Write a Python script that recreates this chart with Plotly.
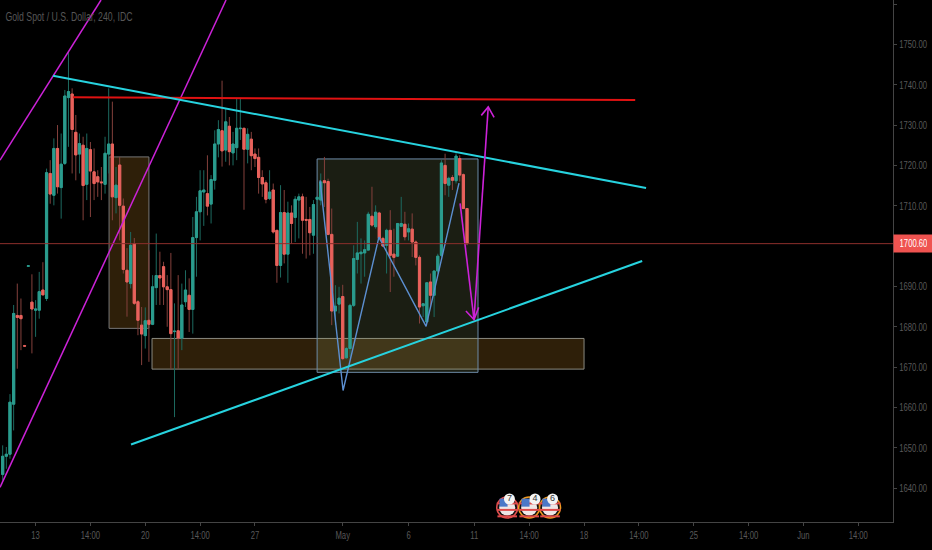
import plotly.graph_objects as go

open_ = [1643.4,1647.9,1648.4,1660.8,1682.8,1682.8,1675.3,1695.0,1686.1,1684.1,1684.1,1689.1,1687.0,1718.0,1712.6,1724.2,1714.5,1720.5,1736.8,1737.7,
1728.2,1722.8,1725.0,1715.3,1723.9,1718.4,1717.2,1715.9,1715.3,1722.8,1725.3,1712.0,1720.1,1709.9,1694.0,1690.7,1700.6,1686.2,1680.4,1677.8,
1681.6,1680.6,1689.7,1692.7,1694.9,1689.9,1689.2,1678.8,1679.0,1677.2,1686.2,1687.8,1684.3,1702.1,1708.5,1713.4,1713.0,1710.4,1716.3,1725.3,
1728.6,1723.8,1729.7,1723.1,1724.4,1729.1,1729.2,1724.0,1726.5,1722.8,1722.0,1717.0,1715.7,1711.8,1713.9,1703.9,1695.2,1708.3,1698.0,1708.2,
1707.1,1711.4,1712.2,1706.6,1706.6,1702.7,1711.6,1711.4,1716.2,1716.0,1702.9,1683.9,1685.6,1687.5,1672.3,1674.6,1685.3,1696.7,1698.1,1698.3,
1699.0,1707.4,1704.8,1708.2,1701.9,1700.2,1703.9,1698.0,1697.5,1704.9,1705.4,1703.5,1704.2,1701.0,1697.2,1685.2,1681.2,1691.1,1687.8,1693.8,
1697.7,1720.0,1715.1,1717.0,1716.2,1721.7,1717.7,1709.3]
high = [1650.6,1650.2,1663.3,1685.4,1690.7,1687.0,1675.5,1695.2,1693.0,1686.6,1693.6,1696.0,1719.2,1721.3,1726.7,1730.0,1727.9,1738.7,1748.2,1739.1,
1732.5,1727.9,1727.1,1727.9,1725.8,1724.2,1718.8,1719.6,1727.1,1739.1,1735.8,1719.6,1722.1,1711.8,1699.5,1703.5,1702.0,1686.6,1684.9,1684.8,
1699.0,1692.8,1703.1,1698.6,1696.1,1692.8,1698.3,1685.8,1692.8,1690.7,1694.0,1692.0,1707.2,1712.2,1718.8,1718.8,1722.5,1717.6,1728.7,1731.2,
1741.0,1734.1,1732.0,1728.3,1736.6,1736.6,1729.2,1729.2,1728.3,1724.2,1724.2,1718.8,1716.3,1718.8,1715.5,1703.9,1715.1,1713.9,1711.0,1710.1,
1712.4,1713.0,1713.0,1712.2,1709.7,1711.4,1712.2,1718.0,1722.1,1716.7,1709.3,1690.3,1689.9,1690.4,1675.0,1685.7,1700.2,1706.0,1701.9,1701.4,
1708.5,1714.7,1710.1,1708.5,1702.3,1704.3,1708.9,1704.3,1705.6,1712.2,1708.5,1705.6,1708.1,1701.4,1697.7,1685.7,1690.9,1693.2,1694.0,1698.1,
1721.3,1722.9,1717.2,1717.6,1723.0,1722.5,1718.0,1709.3]
low = [1641.9,1644.8,1647.3,1654.3,1669.6,1674.2,1675.0,1694.9,1673.4,1677.5,1682.0,1687.9,1686.4,1710.5,1710.1,1713.0,1706.8,1720.1,1724.6,1718.0,
1716.3,1718.0,1706.4,1711.4,1707.2,1711.4,1712.2,1711.4,1713.0,1718.0,1706.4,1708.1,1701.4,1693.2,1682.5,1689.5,1685.4,1677.9,1670.5,1674.6,
1671.3,1680.4,1685.4,1685.4,1685.4,1680.0,1669.6,1657.6,1669.6,1674.2,1684.9,1678.7,1678.3,1692.4,1701.4,1705.0,1707.6,1705.6,1714.0,1722.0,
1719.7,1720.9,1720.0,1720.0,1721.3,1726.3,1709.0,1720.5,1718.8,1719.6,1713.0,1712.2,1710.6,1711.4,1703.1,1690.9,1692.2,1695.7,1690.9,1700.6,
1701.0,1701.9,1698.1,1696.9,1697.7,1698.1,1702.3,1710.1,1709.7,1702.7,1680.4,1680.4,1683.3,1671.7,1672.1,1672.5,1684.9,1693.2,1690.7,1692.4,
1699.0,1704.8,1704.3,1701.4,1699.8,1693.2,1688.6,1692.4,1697.3,1704.8,1701.4,1701.4,1697.3,1695.2,1680.8,1682.4,1681.0,1684.9,1682.4,1693.2,
1697.3,1712.6,1712.2,1713.9,1715.5,1716.0,1709.3,1700.2]
close = [1647.9,1648.4,1661.3,1683.3,1682.3,1682.0,1675.2,1695.1,1684.4,1684.4,1688.7,1687.9,1718.2,1712.9,1724.2,1714.7,1720.3,1737.2,1738.3,1728.9,
1722.6,1725.4,1715.0,1724.2,1718.6,1715.5,1715.9,1715.7,1723.0,1725.3,1712.2,1715.1,1710.1,1694.2,1691.1,1700.2,1685.8,1681.6,1678.2,1681.5,
1680.6,1689.9,1692.7,1692.1,1689.9,1689.2,1678.3,1678.9,1677.2,1685.4,1689.1,1684.3,1702.1,1708.5,1713.7,1713.9,1709.9,1716.5,1725.3,1728.9,
1723.6,1730.8,1723.4,1725.3,1729.2,1729.2,1724.0,1727.7,1722.4,1721.7,1717.0,1715.4,1711.6,1713.4,1703.5,1695.2,1708.3,1698.0,1708.2,1705.6,
1711.6,1712.2,1706.4,1706.4,1703.3,1710.3,1712.1,1715.9,1715.7,1702.9,1683.9,1685.1,1687.1,1672.1,1674.6,1685.3,1696.9,1698.3,1698.5,1699.1,
1707.9,1705.2,1708.4,1701.9,1700.0,1703.9,1697.7,1697.2,1705.6,1705.6,1702.3,1704.3,1701.0,1697.2,1684.9,1685.7,1690.9,1687.8,1693.8,1697.5,
1720.6,1715.5,1716.8,1716.3,1722.3,1717.6,1709.3,1700.6]
bars = list(range(len(close)))

tick_bars = [9,24,39,54,69,93,111,129,144,159,174,189,204,219,234]
tick_labels = ["13","14:00","20","14:00","27","May","6","11","14:00","18","14:00","25","14:00","Jun","14:00"]
price_ticks = [1640,1650,1660,1670,1680,1690,1710,1720,1730,1740,1750,1760]

x_range = [-0.73,243.5]
y_range = [1631.6,1761.0]
last_price = 1700.60

cyan_down = ([13.77,175.96],[1742.2,1714.4])
cyan_up = ([35.1,174.9],[1650.8,1696.3])
red_level = ([19.2,173.0],[1736.9,1736.2])
channel_upper = ([-0.73,26.9],[1721.3,1761.0])
channel_lower = ([-0.73,61.1],[1640.2,1761.0])
zigzag = ([86.8,93.1,102.9,115.8,124.8],[1716.3,1664.2,1702.2,1680.1,1715.6])
arrow_down = ([125.1,128.9],[1710.6,1681.8])
arrow_down_head = ([126.7,128.9,130.2],[1683.9,1681.8,1684.8])
arrow_up = ([128.9,132.8],[1681.8,1734.5])
arrow_up_head = ([130.9,132.8,134.4],[1732.4,1734.5,1731.9])

box_left = (29.1,40.0,1679.6,1722.1)
box_support = (40.85,159.0,1669.5,1677.1)
box_pattern = (86.0,130.0,1668.7,1721.6)

flag_bars = [138.0,144.0,149.7]
flag_price = 1635.2
badge_bars = [138.6,145.6,150.4]
badge_price = 1637.3
flag_counts = ["7","4","6"]
flag_rings = ["#e0504f","#f09a20","#f09a20"]

GREEN="#2b9c8e"; RED="#e9625c"; GREEN_W="#1d6a60"; RED_W="#84403c"; MAG="#cc22d8"
fig = go.Figure()

# wicks
fig.add_trace(go.Candlestick(x=bars,open=open_,high=high,low=low,close=close,whiskerwidth=0,
    increasing=dict(line=dict(color=GREEN_W,width=1),fillcolor=GREEN_W),
    decreasing=dict(line=dict(color=RED_W,width=1),fillcolor=RED_W),hoverinfo="skip"))
# bodies
tops=[max(a,b) for a,b in zip(open_,close)]
bots=[min(a,b) for a,b in zip(open_,close)]
fig.add_trace(go.Candlestick(x=bars,open=open_,high=tops,low=bots,close=close,whiskerwidth=0,
    increasing=dict(line=dict(color=GREEN,width=1),fillcolor=GREEN),
    decreasing=dict(line=dict(color=RED,width=1),fillcolor=RED),hoverinfo="skip"))

def line(pts,color,width):
    fig.add_trace(go.Scatter(x=pts[0],y=pts[1],mode="lines",line=dict(color=color,width=width),hoverinfo="skip"))

line(zigzag,"#5c8fd0",1.4)
line(channel_upper,MAG,1.5)
line(channel_lower,MAG,1.5)
line(red_level,"#e01212",2)
line(cyan_down,"#27d3df",2)
line(cyan_up,"#27d3df",2)
line(arrow_down,MAG,1.6)
line(arrow_down_head,MAG,1.6)
line(arrow_up,MAG,1.6)
line(arrow_up_head,MAG,1.6)

n=len(flag_bars)
fy=[flag_price]*n
fig.add_trace(go.Scatter(x=flag_bars,y=fy,mode="markers",marker=dict(size=21,color="#101010",line=dict(color=flag_rings,width=1.5)),hoverinfo="skip"))
fig.add_trace(go.Scatter(x=flag_bars,y=fy,mode="markers",marker=dict(size=16,color="#eee6e6"),hoverinfo="skip"))
for d,w in ((-2.2,14),(-0.6,15),(1.0,15)):
    fig.add_trace(go.Scatter(x=flag_bars,y=[flag_price+d]*n,mode="markers",
        marker=dict(symbol="line-ew",size=w,line=dict(color="#e04a4a",width=2)),hoverinfo="skip"))
fig.add_trace(go.Scatter(x=[b-1 for b in flag_bars],y=[flag_price+1.2]*n,mode="markers",
    marker=dict(symbol="square",size=8,color="#4a78c8"),hoverinfo="skip"))
fig.add_trace(go.Scatter(x=badge_bars,y=[badge_price]*n,mode="markers+text",text=flag_counts,
    textfont=dict(size=9,color="#333",family="Liberation Sans"),textposition="middle center",
    marker=dict(size=11,color="#f4f4f4"),hoverinfo="skip"))

shapes=[]
for b,fill,edge in ((box_left,"rgba(255,170,50,0.18)","#777777"),
                    (box_support,"rgba(255,170,50,0.18)","#8a8a80"),
                    (box_pattern,"rgba(160,180,110,0.17)","#6d8ba8")):
    shapes.append(dict(type="rect",xref="x",yref="y",x0=b[0],x1=b[1],y0=b[2],y1=b[3],
        fillcolor=fill,line=dict(color=edge,width=1),layer="below"))
shapes.append(dict(type="line",xref="paper",yref="y",x0=0,x1=1,y0=last_price,y1=last_price,
    line=dict(color="#8c2f2c",width=1),layer="above"))

FONT="Liberation Sans, sans-serif"
AXIS="#585858"
fig.update_layout(width=932,height=550,autosize=False,paper_bgcolor="#000",plot_bgcolor="#000",
    margin=dict(l=0,r=39,t=0,b=28.4),showlegend=False,shapes=shapes,hovermode=False,boxgap=0.15,
    font=dict(family=FONT,size=11,color=AXIS),
    xaxis=dict(range=x_range,automargin=False,rangeslider=dict(visible=False),showgrid=False,zeroline=False,
        tickmode="array",tickvals=tick_bars,ticktext=tick_labels,ticks="outside",ticklen=3,
        tickcolor="#444",showline=True,linecolor="#444",tickfont=dict(size=11,color=AXIS)),
    yaxis=dict(range=y_range,automargin=False,side="right",showgrid=False,zeroline=False,tickmode="array",
        tickvals=price_ticks,ticktext=[f"{p:.2f}" for p in price_ticks],ticks="outside",ticklen=3,
        tickcolor="#444",showline=True,linecolor="#444",tickfont=dict(size=11,color=AXIS)),
    annotations=[
        dict(text="Gold Spot / U.S. Dollar, 240, IDC",xref="paper",yref="paper",x=68.5/893,y=1-17/521.6,
             xanchor="center",yanchor="middle",showarrow=False,font=dict(size=12.5,color="#565656",family=FONT)),
        dict(text="1700.60",xref="x",yref="y",x=x_range[1],y=last_price,xanchor="left",yanchor="middle",
             showarrow=False,bgcolor="#ef5350",width=39,height=17,borderpad=0,
             font=dict(size=11,color="#ffffff",family=FONT)),
    ])
POST = """
document.body.style.margin='0';
document.documentElement.style.background='#000';
document.body.style.overflow='hidden';
document.querySelectorAll('.xtick text,.ytick text,.annotation-text').forEach(function(t){
  var x=parseFloat(t.getAttribute('x'))||0;
  var tr=t.getAttribute('transform')||'';
  t.setAttribute('transform',tr+' translate('+x+',0) scale(0.7,1) translate('+(-x)+',0)');
});
"""
fig.write_html("out.html",config={"displayModeBar":False},post_script=POST)
